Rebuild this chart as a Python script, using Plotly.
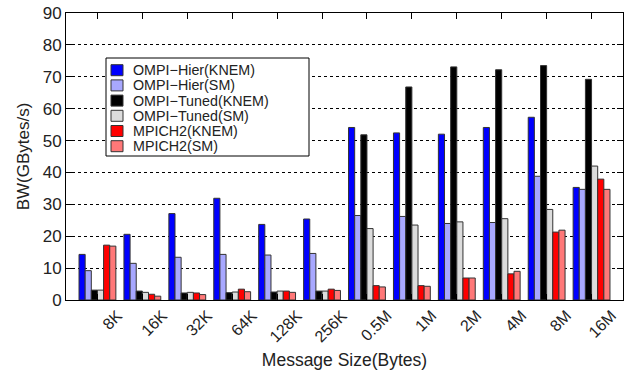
import plotly.graph_objects as go

categories = ["8K", "16K", "32K", "64K", "128K", "256K", "0.5M", "1M", "2M", "4M", "8M", "16M"]
ompi_hier_knem = [14.3, 20.6, 27.1, 31.9, 23.7, 25.4, 54.1, 52.4, 52.0, 54.1, 57.3, 35.3]
ompi_hier_sm = [9.2, 11.5, 13.4, 14.3, 14.1, 14.6, 26.5, 26.2, 24.0, 24.3, 38.8, 34.7]
ompi_tuned_knem = [3.1, 2.8, 2.2, 2.3, 2.5, 2.8, 51.8, 66.8, 73.1, 72.2, 73.5, 69.2]
ompi_tuned_sm = [3.1, 2.4, 2.4, 2.5, 2.8, 2.8, 22.4, 23.5, 24.5, 25.5, 28.4, 42.0]
mpich2_knem = [17.2, 1.8, 2.2, 3.4, 2.8, 3.4, 4.5, 4.5, 6.9, 8.2, 21.3, 37.9]
mpich2_sm = [16.9, 1.2, 1.7, 2.6, 2.4, 3.0, 4.1, 4.3, 6.9, 9.0, 21.9, 34.7]

series_names = ["OMPI\u2212Hier(KNEM)", "OMPI\u2212Hier(SM)", "OMPI\u2212Tuned(KNEM)",
                "OMPI\u2212Tuned(SM)", "MPICH2(KNEM)", "MPICH2(SM)"]
series_values = [ompi_hier_knem, ompi_hier_sm, ompi_tuned_knem, ompi_tuned_sm, mpich2_knem, mpich2_sm]
series_colors = ["#0000ff", "#a8a8ff", "#000000", "#dcdcdc", "#ff0000", "#ff7878"]

W, H = 635, 378
ML, MR, MT, MB = 66, 12, 13, 78
PW, PH = W - ML - MR, H - MT - MB


def px_x(x):
    # x in window pixels -> paper fraction
    return (x - ML) / PW


def px_y(y):
    return (H - MB - y) / PH


xpos = list(range(len(categories)))
fig = go.Figure()
for name, vals, color in zip(series_names, series_values, series_colors):
    fig.add_trace(go.Bar(
        x=xpos, y=vals, name=name, showlegend=False,
        marker=dict(color=color, line=dict(color="#333333", width=1)),
    ))

# custom compact legend (box, swatches, labels)
shapes = [dict(type="rect", xref="paper", yref="paper",
               x0=px_x(106), x1=px_x(309), y0=px_y(156), y1=px_y(58),
               line=dict(color="#000", width=1), fillcolor="white", layer="above")]
annotations = []
for i, (name, color) in enumerate(zip(series_names, series_colors)):
    cy = 70.2 + 15.2 * i
    shapes.append(dict(type="rect", xref="paper", yref="paper",
                       x0=px_x(111), x1=px_x(123), y0=px_y(cy + 5.5), y1=px_y(cy - 5.5),
                       line=dict(color="#333333", width=1), fillcolor=color, layer="above"))
    annotations.append(dict(xref="paper", yref="paper", x=px_x(131), y=px_y(cy),
                            xanchor="left", yanchor="middle", showarrow=False, text=name,
                            font=dict(size=14.3, color="#222222")))

fig.update_layout(
    width=W, height=H,
    margin=dict(l=ML, r=MR, t=MT, b=MB),
    barmode="group", bargap=0.18, bargroupgap=0,
    plot_bgcolor="white", paper_bgcolor="white",
    font=dict(family="Liberation Sans, Arial, sans-serif", size=16, color="#222222"),
    showlegend=False,
    shapes=shapes, annotations=annotations,
    xaxis=dict(
        range=[-0.7, 11.7], tickmode="array", tickvals=xpos, ticktext=categories,
        tickangle=-45, ticks="inside", ticklen=6, tickcolor="#000",
        ticklabelshift=20, ticklabelstandoff=-1, ticklabeloverflow="allow",
        showline=True, linecolor="#000", linewidth=1, mirror="ticks",
        showgrid=False, zeroline=False, automargin=False,
        title=dict(text="Message Size(Bytes)", font=dict(size=17.5), standoff=9),
        tickfont=dict(size=16),
    ),
    yaxis=dict(
        range=[0, 90], tickmode="array", tickvals=list(range(0, 91, 10)),
        ticks="inside", ticklen=6, tickcolor="#000",
        showline=True, linecolor="#000", linewidth=1, mirror="ticks",
        showgrid=True, gridcolor="#000", griddash="dot", gridwidth=1,
        zeroline=False, automargin=False, ticklabeloverflow="allow",
        title=dict(text="BW(GBytes/s)", font=dict(size=17), standoff=8),
        tickfont=dict(size=17),
    ),
)

fig.write_html("out.html", config={"displayModeBar": False},
               post_script="document.body.style.margin='0';")
